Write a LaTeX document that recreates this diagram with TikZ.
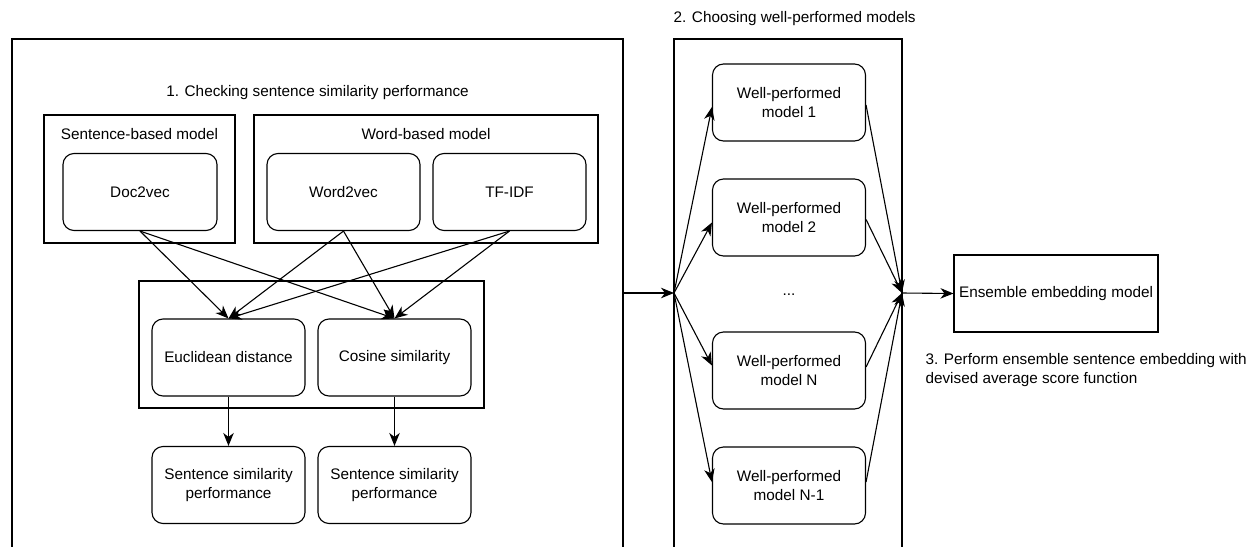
\documentclass[tikz,border=0pt]{standalone}
\usepackage{fontspec}
\setmainfont{Liberation Sans}
\usetikzlibrary{arrows.meta}
\begin{document}
\begin{tikzpicture}[x=1pt,y=-1pt,
  font=\fontsize{15.3}{19.5}\selectfont,
  line width=1.1pt,
  model/.style={draw, rounded corners=11pt, minimum width=153pt,
    minimum height=77pt, align=center, inner sep=0pt},
  groupbox/.style={draw, inner sep=0pt},
  plain/.style={inner sep=0pt, align=left},
  arr/.style={-{Stealth[length=13pt,width=10.5pt,inset=4pt]}},
]
\useasboundingbox (0,0) rectangle (1247,546);

% stage frames (open at the bottom edge)
\draw (12,548) |- (623,39) -- (623,548);
\draw (674,548) |- (902,39) -- (902,548);

% stage titles
\node[plain] (t1) at (317.5,93) {1. Checking sentence similarity performance};
\node[plain, anchor=west] (t2) at (673,19) {2. Choosing well-performed models};
\node[plain, anchor=west] (t3) at (925,370)
  {3. Perform ensemble sentence embedding with\\devised average score function};

% model groups
\node[groupbox, minimum width=191pt, minimum height=128pt] (sbm) at (139.5,179) {};
\node[plain] (sbml) at (139.5,134) {Sentence-based model};
\node[groupbox, minimum width=344pt, minimum height=128pt] (wbm) at (426,179) {};
\node[plain] (wbml) at (426,134) {Word-based model};

\node[model, minimum width=154pt] (doc) at (140,192) {Doc2vec};
\node[model] (w2v) at (343.5,192) {Word2vec};
\node[model] (tfidf) at (509.5,192) {TF-IDF};

% similarity measures
\node[groupbox, minimum width=345pt, minimum height=127pt] (meas) at (311.5,344.5) {};
\node[model] (euc) at (228.5,357.5) {Euclidean distance};
\node[model] (cos) at (394.5,357.5) {Cosine similarity};

\node[model] (p1) at (228.5,485) {Sentence similarity\\performance};
\node[model] (p2) at (394.5,485) {Sentence similarity\\performance};

\foreach \s in {doc,w2v,tfidf}{
  \draw[arr] (\s.south) -- (euc.north);
  \draw[arr] (\s.south) -- (cos.north);
}
\draw[arr] (euc.south) -- (p1.north);
\draw[arr] (cos.south) -- (p2.north);

% stage 2
\coordinate (lout) at (623,293);
\coordinate (fanin) at (674,293);
\coordinate (fanout) at (902,293);

\node[model] (m1) at (789,102.5) {Well-performed\\model 1};
\node[model] (m2) at (789,217.5) {Well-performed\\model 2};
\node[plain] (dots) at (789,295) {...};
\node[model] (mn) at (789,370.5) {Well-performed\\model N};
\node[model] (mn1) at (789,485.5) {Well-performed\\model N-1};

\draw[arr] (lout) -- (fanin);
\draw[arr] (fanin) -- ([yshift=-4.5pt]m1.west);
\draw[arr] (fanin) -- ([yshift=-5pt]m2.west);
\draw[arr] (fanin) -- ([yshift=5pt]mn.west);
\draw[arr] (fanin) -- ([yshift=3.5pt]mn1.west);
\draw[arr] ([yshift=-2.5pt]m1.east) -- (fanout);
\draw[arr] ([yshift=-2pt]m2.east) -- (fanout);
\draw[arr] ([yshift=3.5pt]mn.east) -- (fanout);
\draw[arr] ([yshift=3.5pt]mn1.east) -- (fanout);

% stage 3
\node[groupbox, minimum width=204pt, minimum height=77pt] (ens) at (1056,293.5)
  {Ensemble embedding model};
\draw[arr] (fanout) -- (ens.west);
\end{tikzpicture}
\end{document}
